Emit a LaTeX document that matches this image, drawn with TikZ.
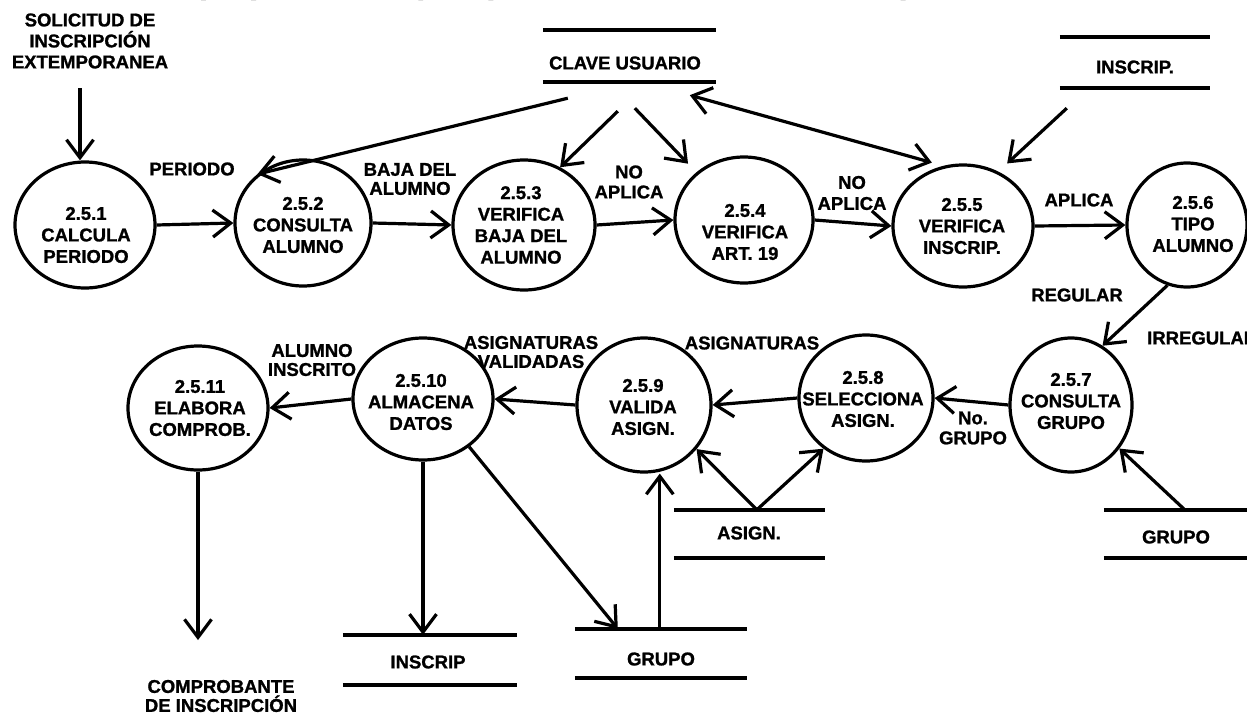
\documentclass[tikz,border=0pt]{standalone}
\usepackage{fontspec}
\setmainfont{Liberation Sans}[FakeBold=1.2]
\usetikzlibrary{arrows.meta,shapes.geometric,calc}
\tikzset{
  tipv/.tip={Straight Barb[length=18pt,width=27pt,line width=3.2pt]},
}
\begin{document}
\begin{tikzpicture}[x=1pt,y=-1pt,
  proc/.style={ellipse, draw, line width=3.2pt, inner sep=0pt},
  ptext/.style={align=center, inner sep=0pt, font=\fontsize{18.5}{21.5}\selectfont\bfseries},
  lbl/.style={align=center, inner sep=0pt, font=\fontsize{18.5}{20}\selectfont\bfseries},
  storebox/.style={inner sep=0pt, draw=none},
  storeline/.style={line width=3.5pt},
  flow/.style={line width=3.2pt, -tipv},
  dflow/.style={line width=3.2pt, tipv-tipv},
]
\useasboundingbox (0,0) rectangle (1247,715);
\clip (0,0) rectangle (1247,715);
\fill[white] (0,0) rectangle (1247,715);

% cut-off title
\node[anchor=base, inner sep=0pt, font=\fontsize{70}{70}\selectfont\bfseries] (title) at (645,-1) {INSCRIPCIÓN EXTEMPORÁNEA};

% processes
\node[proc, minimum width=140pt, minimum height=126pt] (P1) at (85,225) {};
\node[proc, minimum width=136pt, minimum height=126pt] (P2) at (303,223) {};
\node[proc, minimum width=142pt, minimum height=130pt] (P3) at (524,225) {};
\node[proc, minimum width=138pt, minimum height=126pt] (P4) at (744,220) {};
\node[proc, minimum width=140pt, minimum height=122pt] (P5) at (963,226) {};
\node[proc, minimum width=120pt, minimum height=124pt] (P6) at (1187,225) {};
\node[proc, minimum width=122pt, minimum height=134pt] (P7) at (1071,405) {};
\node[proc, minimum width=134pt, minimum height=126pt] (P8) at (866,398) {};
\node[proc, minimum width=134pt, minimum height=134pt] (P9) at (644,405) {};
\node[proc, minimum width=140pt, minimum height=122pt] (P10) at (423,399) {};
\node[proc, minimum width=140pt, minimum height=124pt] (P11) at (198,408) {};

\node[ptext] (P1t) at (86,235) {2.5.1\\CALCULA\\PERIODO};
\node[ptext] (P2t) at (303,225) {2.5.2\\CONSULTA\\ALUMNO};
\node[ptext] (P3t) at (521,225) {2.5.3\\VERIFICA\\BAJA DEL\\ALUMNO};
\node[ptext] (P4t) at (745,232) {2.5.4\\VERIFICA\\ART. 19};
\node[ptext] (P5t) at (962,226) {2.5.5\\VERIFICA\\INSCRIP.};
\node[ptext] (P6t) at (1193,224) {2.5.6\\TIPO\\ALUMNO};
\node[ptext] (P7t) at (1071,401) {2.5.7\\CONSULTA\\GRUPO};
\node[ptext] (P8t) at (863,399) {2.5.8\\SELECCIONA\\ASIGN.};
\node[ptext] (P9t) at (643,407) {2.5.9\\VALIDA\\ASIGN.};
\node[ptext] (P10t) at (421,402) {2.5.10\\ALMACENA\\DATOS};
\node[ptext] (P11t) at (200,408) {2.5.11\\ELABORA\\COMPROB.};

% data stores
\node[storebox, minimum width=173pt, minimum height=52pt] (SCU) at (629.5,56) {};
\node[storebox, minimum width=150pt, minimum height=51pt] (SIN) at (1135,62.5) {};
\node[storebox, minimum width=151pt, minimum height=48pt] (SAS) at (749.5,534) {};
\node[storebox, minimum width=160pt, minimum height=48pt] (SGR) at (1184,534) {};
\node[storebox, minimum width=174pt, minimum height=50pt] (SIS) at (430,660) {};
\node[storebox, minimum width=172pt, minimum height=49pt] (SGB) at (661,653.5) {};
\foreach \s in {SCU,SIN,SAS,SGR,SIS,SGB}{
  \draw[storeline] (\s.north west) -- (\s.north east);
  \draw[storeline] (\s.south west) -- (\s.south east);
}
\node[lbl] (SCUl) at (625,63) {CLAVE USUARIO};
\node[lbl] (SINl) at (1135,67) {INSCRIP.};
\node[lbl] (SASl) at (749,533) {ASIGN.};
\node[lbl] (SGRl) at (1176,537) {GRUPO};
\node[lbl] (SISl) at (428,662) {INSCRIP};
\node[lbl] (SGBl) at (661,659) {GRUPO};

% external entities / flow labels
\node[lbl, font=\fontsize{18.5}{21}\selectfont\bfseries] (SOL) at (90,41) {SOLICITUD DE\\INSCRIPCIÓN\\EXTEMPORANEA};
\node[lbl, font=\fontsize{18.5}{19}\selectfont\bfseries] (COMP) at (221,696) {COMPROBANTE\\DE INSCRIPCIÓN};
\node[lbl] (L1) at (192,169) {PERIODO};
\node[lbl, font=\fontsize{18.5}{19}\selectfont\bfseries] (L2) at (410,179) {BAJA DEL\\ALUMNO};
\node[lbl] (L3) at (629,182) {NO\\APLICA};
\node[lbl, font=\fontsize{18.5}{21}\selectfont\bfseries] (L4) at (852,193) {NO\\APLICA};
\node[lbl] (L5) at (1079,200) {APLICA};
\node[lbl] (L6) at (1077,295) {REGULAR};
\node[lbl, anchor=west] (L7) at (1147,338) {IRREGULAR};
\node[lbl, font=\fontsize{18.5}{19}\selectfont\bfseries] (L8) at (312,360) {ALUMNO\\INSCRITO};
\node[lbl, font=\fontsize{18.5}{19}\selectfont\bfseries] (L9) at (531,352) {ASIGNATURAS\\VALIDADAS};
\node[lbl] (L10) at (752,343) {ASIGNATURAS};
\node[lbl] (L11) at (973,428) {No.\\GRUPO};

% connectors
\coordinate (c0) at (80,88);
\coordinate (c1) at (198,640);
\draw[flow] (c0) -- (c0 |- P1.north);
\draw[flow] (P1.east) -- (P2.west);
\draw[flow] (P2.east) -- (P3.west);
\draw[flow] (P3.east) -- (P4.west);
\draw[flow] (P4.east) -- (P5.west);
\draw[flow] (P5.east) -- (P6.west);
\draw[flow] (P6.-108) -- (P7.62);
\draw[flow] (P7.west) -- (P8.east);
\draw[flow] (P8.west) -- (P9.east);
\draw[flow] (P9.west) -- (P10.east);
\draw[flow] (P10.west) -- (P11.east);
\draw[flow] (P11.south) -- (c1);
\draw[flow] (P10.south) -- (P10.south |- SIS.north);
\draw[flow] (P10.-46) -- ($(SGB.north west)+(43,0)$);
\coordinate (gup) at ($(SGB.north west)+(85,0)$);
\draw[flow] (gup) -- (gup |- P9.south);
\coordinate (aapex) at ($(SAS.north west)+(83,0)$);
\draw[flow] (aapex) -- (P9.-40);
\draw[flow] (aapex) -- (P8.-130);
\draw[flow] ($(SGR.north west)+(81,0)$) -- (P7.-42);
\draw[flow] ($(SCU.south west)+(25,16)$) -- (P2.133);
\draw[flow] ($(SCU.south west)+(75,29)$) -- (P3.58);
\draw[flow, shorten >=12pt] ($(SCU.south west)+(92,26)$) -- (P4.135);
\draw[dflow, shorten >=12pt] ($(SCU.south west)+(147,13)$) -- (P5.108);
\draw[flow, shorten >=12pt] ($(SIN.south west)+(7,20)$) -- (P5.57);
\end{tikzpicture}
\end{document}
